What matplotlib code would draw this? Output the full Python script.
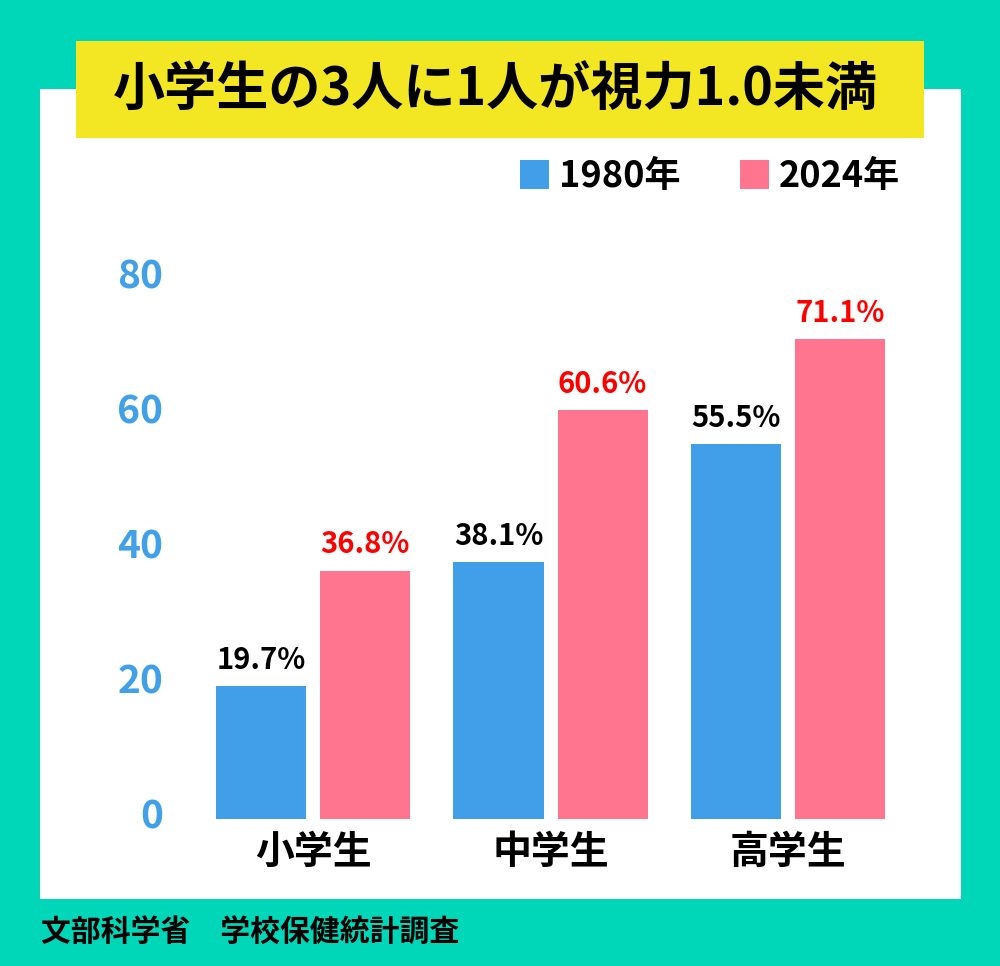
import matplotlib
matplotlib.use("Agg")
import matplotlib.pyplot as plt
from matplotlib.patches import Rectangle
from matplotlib.transforms import ScaledTranslation
import numpy as np

plt.rcParams['font.family'] = ['Noto Sans CJK JP', 'DejaVu Sans']

# ---- data ----
categories = ["小学生", "中学生", "高学生"]
series_names = ["1980年", "2024年"]
values_1980 = [19.7, 38.1, 55.5]
values_2024 = [36.8, 60.6, 71.1]
y_ticks = [0, 20, 40, 60, 80]
title = "小学生の3人に1人が視力1.0未満"
source = "文部科学省\u3000学校保健統計調査"

# ---- style ----
TEAL = "#00D7B8"
YELLOW = "#F3E622"
BLUE = "#419FEA"
PINK = "#FF748E"
TICK_BLUE = "#42A0E8"
RED = "#FF0000"

W, H = 1000, 966
fig = plt.figure(figsize=(W / 100, H / 100), dpi=100)
fig.patch.set_facecolor(TEAL)

def fx(px):
    return px / W

def fy(py):
    return 1 - py / H

# white panel
fig.patches.append(Rectangle((fx(40), fy(899)), fx(961) - fx(40), fy(89) - fy(899),
                             transform=fig.transFigure, facecolor="white", edgecolor="none", zorder=0))
# yellow title box
fig.patches.append(Rectangle((fx(76), fy(138)), fx(924) - fx(76), fy(41) - fy(138),
                             transform=fig.transFigure, facecolor=YELLOW, edgecolor="none", zorder=1))
fig.text(fx(495), fy(90), title, ha="center", va="center", fontsize=37.5, fontweight="bold",
         color="black", zorder=2)

# legend
legend_items = [(520, series_names[0], BLUE), (740, series_names[1], PINK)]
for x0, lab, col in legend_items:
    fig.patches.append(Rectangle((fx(x0), fy(189)), fx(29), fy(160) - fy(189),
                                 transform=fig.transFigure, facecolor=col, edgecolor="none", zorder=2))
    fig.text(fx(x0 + 39), fy(176), lab, ha="left", va="center", fontsize=26,
             fontweight="bold", color="black", zorder=3)

# axes
px_per_unit = 6.75
ax_left, ax_right = 180, 930
ax_bottom_px, ax_top_px = 819, 250
ax = fig.add_axes([fx(ax_left), fy(ax_bottom_px), fx(ax_right - ax_left), (ax_bottom_px - ax_top_px) / H])
ax.set_zorder(5)
ax.set_facecolor("none")
group_sp = 237.5
x0c = 313
ax.set_xlim(-(x0c - ax_left) / group_sp, (ax_right - x0c) / group_sp)
ax.set_ylim(0, (ax_bottom_px - ax_top_px) / px_per_unit)

x = np.arange(len(categories))
bw = 90 / group_sp
off = 52 / group_sp
b1 = ax.bar(x - off, values_1980, width=bw, color=BLUE, label=series_names[0])
b2 = ax.bar(x + off, values_2024, width=bw, color=PINK, label=series_names[1])

for rect, v in zip(b1, values_1980):
    ax.annotate(f"{v:.1f}%", (rect.get_x() + rect.get_width() / 2, v), xytext=(0, 8),
                textcoords="offset points", ha="center", va="bottom", fontsize=21,
                fontweight="bold", color="black", annotation_clip=False)
for rect, v in zip(b2, values_2024):
    ax.annotate(f"{v:.1f}%", (rect.get_x() + rect.get_width() / 2, v), xytext=(0, 8),
                textcoords="offset points", ha="center", va="bottom", fontsize=21,
                fontweight="bold", color=RED, annotation_clip=False)

for s in ax.spines.values():
    s.set_visible(False)
ax.set_yticks(y_ticks)
ax.set_yticklabels([str(t) for t in y_ticks], fontsize=28, fontweight="bold", color=TICK_BLUE)
ax.set_xticks(x)
ax.set_xticklabels(categories, fontsize=28, fontweight="bold", color="black")
ax.tick_params(axis="y", length=0, pad=12)
ax.tick_params(axis="x", length=0, pad=10)
shift = ScaledTranslation(0, 6 / 100, fig.dpi_scale_trans)
for lab in ax.get_yticklabels():
    lab.set_transform(lab.get_transform() + shift)

fig.text(fx(41), fy(933), source, ha="left", va="center", fontsize=21.5, fontweight="bold",
         color="black", zorder=3)

fig.savefig("out.png", dpi=100, facecolor=TEAL)
